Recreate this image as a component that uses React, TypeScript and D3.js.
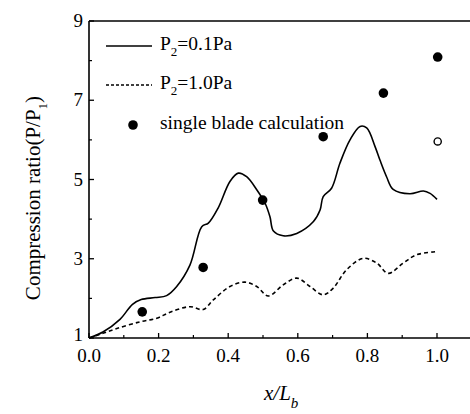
import React from 'react';
import * as d3 from 'd3';

// P2 = 0.1Pa (solid)
const solidX = [0, 0.04, 0.089, 0.125, 0.15, 0.19, 0.223, 0.252, 0.29, 0.324, 0.343, 0.371, 0.405, 0.429, 0.453, 0.482, 0.506, 0.52, 0.53, 0.558, 0.597, 0.645, 0.664, 0.673, 0.697, 0.721, 0.75, 0.779, 0.798, 0.822, 0.836, 0.855, 0.874, 0.922, 0.961, 0.98, 1.0];
const solidY = [1.0, 1.15, 1.47, 1.85, 1.97, 2.02, 2.07, 2.3, 2.84, 3.81, 3.9, 4.28, 4.95, 5.16, 5.07, 4.74, 4.4, 4.06, 3.7, 3.58, 3.64, 3.94, 4.23, 4.57, 4.78, 5.41, 6.0, 6.34, 6.3, 5.83, 5.49, 5.07, 4.75, 4.64, 4.71, 4.65, 4.5];

// P2 = 1.0Pa (dashed)
const dashX = [0, 0.04, 0.08, 0.147, 0.195, 0.233, 0.29, 0.328, 0.357, 0.405, 0.448, 0.482, 0.515, 0.558, 0.597, 0.635, 0.673, 0.702, 0.74, 0.788, 0.827, 0.86, 0.903, 0.941, 1.0];
const dashY = [1.0, 1.12, 1.24, 1.41, 1.5, 1.65, 1.79, 1.72, 1.96, 2.3, 2.41, 2.3, 2.06, 2.34, 2.51, 2.3, 2.09, 2.26, 2.72, 3.01, 2.89, 2.63, 2.89, 3.1, 3.18];

// single blade calculation
const dotX = [0.153, 0.328, 0.499, 0.673, 0.846, 1.002];
const dotY = [1.66, 2.78, 4.48, 6.08, 7.18, 8.09];
const openX = [1.002];
const openY = [5.96];

const yTicks = [1, 3, 5, 7, 9];
const yMinor = [2, 4, 6, 8];
const xTicks = [0, 0.2, 0.4, 0.6, 0.8, 1.0];
const xMinor = [0.1, 0.3, 0.5, 0.7, 0.9];

const W = 470, H = 414;
const font = "'Liberation Serif', 'Times New Roman', Times, 'DejaVu Serif', serif";

export default function App() {
  const x = d3.scaleLinear().domain([0, 1.1]).range([89, 89 + 348 * 1.1]);
  const y = d3.scaleLinear().domain([1, 9]).range([338, 21]);
  const line = d3.line<[number, number]>()
    .x(d => x(d[0]))
    .y(d => y(d[1]))
    .curve(d3.curveCatmullRom.alpha(0.5));

  const solid = solidX.map((v, i) => [v, solidY[i]] as [number, number]);
  const dashed = dashX.map((v, i) => [v, dashY[i]] as [number, number]);

  return (
    <svg width={W} height={H} style={{ position: 'absolute', left: 0, top: 0, background: '#fff', fontFamily: font }}>
      {/* frame */}
      <line x1={x(0)} x2={W} y1={y(1)} y2={y(1)} stroke="#000" strokeWidth={1.6} />
      <line x1={x(0)} x2={W} y1={y(9)} y2={y(9)} stroke="#000" strokeWidth={1.6} />
      <line x1={x(0)} x2={x(0)} y1={y(1)} y2={y(9)} stroke="#000" strokeWidth={1.6} />

      {/* y ticks */}
      {yTicks.map(t => (
        <g key={'y' + t}>
          <line x1={x(0)} x2={x(0) + 5} y1={y(t)} y2={y(t)} stroke="#000" strokeWidth={1.3} />
          <text x={x(0) - 6} y={y(t) + (t === 1 ? 3 : 6)} fontSize={19} textAnchor="end">{t}</text>
        </g>
      ))}
      {yMinor.map(t => (
        <line key={'ym' + t} x1={x(0)} x2={x(0) + 3} y1={y(t)} y2={y(t)} stroke="#000" strokeWidth={1.2} />
      ))}

      {/* x ticks */}
      {xTicks.map(t => (
        <g key={'x' + t}>
          <line x1={x(t)} x2={x(t)} y1={y(1)} y2={y(1) - 5} stroke="#000" strokeWidth={1.3} />
          <text x={x(t)} y={362} fontSize={19} textAnchor="middle">{t.toFixed(1)}</text>
        </g>
      ))}
      {xMinor.map(t => (
        <line key={'xm' + t} x1={x(t)} x2={x(t)} y1={y(1)} y2={y(1) - 3} stroke="#000" strokeWidth={1.2} />
      ))}

      {/* curves */}
      <path d={line(solid) || ''} fill="none" stroke="#000" strokeWidth={1.6} />
      <path d={line(dashed) || ''} fill="none" stroke="#000" strokeWidth={1.6} strokeDasharray="4,3" />

      {dotX.map((v, i) => (
        <circle key={'d' + i} cx={x(v)} cy={y(dotY[i])} r={4.8} fill="#000" />
      ))}
      {openX.map((v, i) => (
        <circle key={'o' + i} cx={x(v)} cy={y(openY[i])} r={3.6} fill="#fff" stroke="#000" strokeWidth={1.4} />
      ))}

      {/* legend */}
      <line x1={106} x2={152} y1={46} y2={46} stroke="#000" strokeWidth={1.6} />
      <text x={160} y={50} fontSize={19.5}>P<tspan fontSize={13} dy={6}>2</tspan><tspan dy={-6}>=0.1Pa</tspan></text>
      <line x1={106} x2={152} y1={85} y2={85} stroke="#000" strokeWidth={1.4} strokeDasharray="3,2" />
      <text x={160} y={89} fontSize={19.5}>P<tspan fontSize={13} dy={6}>2</tspan><tspan dy={-6}>=1.0Pa</tspan></text>
      <circle cx={133} cy={125} r={4.8} fill="#000" />
      <text x={160} y={129} fontSize={19.5}>single blade calculation</text>

      {/* axis titles */}
      <text transform="translate(40,198) rotate(-90)" fontSize={21} textAnchor="middle">
        Compression ratio(P/P<tspan fontSize={13} dy={7}>1</tspan><tspan dy={-7}>)</tspan>
      </text>
      <text x={264} y={400} fontSize={21} fontStyle="italic">x/L<tspan fontSize={15} dy={8}>b</tspan></text>
    </svg>
  );
}
